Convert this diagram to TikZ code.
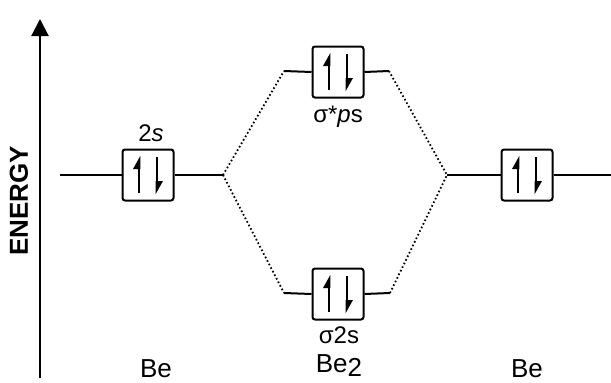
\documentclass[tikz,border=0pt]{standalone}
\usepackage{fontspec}
\setmainfont{Liberation Sans}
\usetikzlibrary{arrows.meta}
\tikzset{
  orb/.style={draw, line width=2pt, rounded corners=2.5pt, minimum width=51pt, minimum height=51pt, inner sep=0pt},
  level/.style={line width=2pt},
  corr/.style={line width=1.8pt, dash pattern=on 1.6pt off 2.4pt},
  lbl/.style={font=\fontsize{24}{26}\selectfont, inner sep=0pt},
  atom/.style={font=\fontsize{26}{28}\selectfont, inner sep=0pt, anchor=base},
}
\newcommand{\spinpair}[1]{%
  \draw[line width=2.6pt] ([xshift=-9pt,yshift=-18pt]#1.center) -- ([xshift=-9pt,yshift=15pt]#1.center);
  \fill ([xshift=-7.7pt,yshift=19pt]#1.center) -- ([xshift=-15pt,yshift=6pt]#1.center) -- ([xshift=-7.7pt,yshift=6pt]#1.center) -- cycle;
  \draw[line width=2.6pt] ([xshift=9pt,yshift=18pt]#1.center) -- ([xshift=9pt,yshift=-15pt]#1.center);
  \fill ([xshift=7.7pt,yshift=-19pt]#1.center) -- ([xshift=15pt,yshift=-6pt]#1.center) -- ([xshift=7.7pt,yshift=-6pt]#1.center) -- cycle;
}
\begin{document}
\begin{tikzpicture}[x=1pt,y=-1pt]
\useasboundingbox (0,0) rectangle (611,383);
% energy axis
\coordinate (ax0) at (40,378);
\coordinate (ax1) at (40,19);
\draw[line width=2.2pt, -{Triangle[length=17pt,width=17pt]}] (ax0) -- (ax1);
\node[rotate=90, font=\bfseries\fontsize{26}{28}\selectfont, inner sep=0pt] (energy) at (19,201) {ENERGY};
% boxes
\node[orb] (lb) at (148,175) {};
\node[orb] (tb) at (338,72) {};
\node[orb] (bb) at (338,294) {};
\node[orb] (rb) at (527,175) {};
\spinpair{lb}
\spinpair{tb}
\spinpair{bb}
\spinpair{rb}
% level end points
\coordinate (l0) at (60,175);
\coordinate (l1) at (223,175);
\coordinate (t0) at (284,71);
\coordinate (t1) at (389,71);
\coordinate (b0) at (284,293);
\coordinate (b1) at (390,293);
\coordinate (r0) at (447,175);
\coordinate (r1) at (611,175);
\draw[level] (l0) -- (lb.west) (lb.east) -- (l1);
\draw[level] (t0) -- (tb.west) (tb.east) -- (t1);
\draw[level] (b0) -- (bb.west) (bb.east) -- (b1);
\draw[level] (r0) -- (rb.west) (rb.east) -- (r1);
% correlation lines
\draw[corr] (l1) -- (t0);
\draw[corr] (l1) -- (b0);
\draw[corr] (t1) -- (r0);
\draw[corr] (b1) -- (r0);
% labels
\node[lbl] (l2s) at (151,133) {2\textit{s}};
\node[lbl] (sps) at (338,117) {σ*\textit{p}s};
\node[lbl] (s2s) at (339,335) {σ2s};
\node[atom] (be1) at (156,377) {Be};
\node[atom] (be2) at (339,372) {Be\raisebox{-4pt}{2}};
\node[atom] (be3) at (527,377) {Be};
\end{tikzpicture}
\end{document}
